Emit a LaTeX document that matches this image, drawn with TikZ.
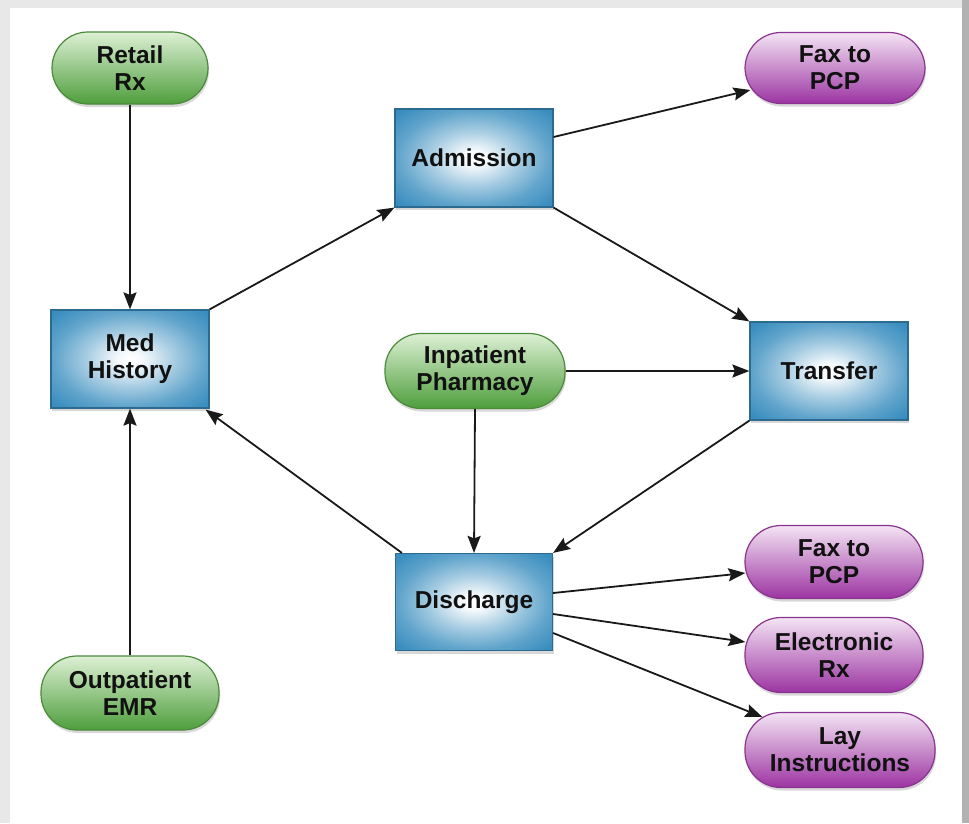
\documentclass[tikz,border=0pt]{standalone}
\usepackage{fontspec}
\setmainfont{Liberation Sans}
\usetikzlibrary{arrows.meta,shadows,calc}
\definecolor{boxblue}{HTML}{3A8EBF}
\definecolor{boxedge}{HTML}{2C6A90}
\definecolor{grnbot}{HTML}{4E9E3C}
\definecolor{grntop}{HTML}{DDF0D4}
\definecolor{grnedge}{HTML}{4A8A3A}
\definecolor{purbot}{HTML}{9C34A2}
\definecolor{purtop}{HTML}{F4E4F4}
\definecolor{puredge}{HTML}{8A3290}
\definecolor{txt}{HTML}{111111}
\pgfdeclareradialshading{boxshade}{\pgfpoint{0bp}{0bp}}{%
  color(0bp)=(white);
  color(4bp)=(white!95!boxblue);
  color(14bp)=(boxblue!45!white);
  color(24bp)=(boxblue!80!white);
  color(33bp)=(boxblue);
  color(50bp)=(boxblue!85!black)}
\tikzset{
  lbl/.style={font=\bfseries\fontsize{24.5}{27}\selectfont, text=txt, align=center},
  sq/.style={lbl, rectangle, draw=boxedge, line width=1.2pt, shading=boxshade,
     minimum width=158pt, minimum height=98pt,
     drop shadow={opacity=0.3,shadow xshift=1pt,shadow yshift=-3pt}},
  gpill/.style={lbl, rectangle, rounded corners=36pt, draw=grnedge, line width=1.2pt,
     top color=grntop, bottom color=grnbot, middle color=grntop!50!grnbot,
     minimum width=178pt, minimum height=74pt,
     drop shadow={opacity=0.3,shadow xshift=1pt,shadow yshift=-3pt}},
  ppill/.style={lbl, rectangle, rounded corners=36pt, draw=puredge, line width=1.2pt,
     top color=purtop, bottom color=purbot, middle color=purtop!50!purbot,
     minimum width=178pt, minimum height=73pt,
     drop shadow={opacity=0.3,shadow xshift=1pt,shadow yshift=-3pt}},
  arr/.style={line width=1.8pt, draw=black!90, -{Stealth[length=17pt,width=13pt,inset=2.5pt]}}
}
\begin{document}
\begin{tikzpicture}[x=1pt,y=-1pt]
\useasboundingbox (0,0) rectangle (969,823);
\fill[black!9] (0,0) rectangle (969,823);
\fill[black!30] (962,0) rectangle (969,823);
\fill[white] (10,8) rectangle (962,823);

\node[gpill, minimum width=156pt, minimum height=72pt] (retail) at (130,68) {Retail\\Rx};
\node[sq] (med) at (130,359) {Med\\History};
\node[gpill] (emr) at (130,693) {Outpatient\\EMR};
\node[sq] (adm) at (474,158) {Admission};
\node[ppill, minimum width=180pt, minimum height=71pt] (fax1) at (835,68) {Fax to\\PCP};
\node[gpill, minimum width=180pt, minimum height=75pt] (inp) at (475,371) {Inpatient\\Pharmacy};
\node[sq] (trans) at (829,371) {Transfer};
\node[sq, minimum width=157pt, minimum height=97pt] (dis) at (474,602) {Discharge};
\node[ppill] (fax2) at (834,562) {Fax to\\PCP};
\node[ppill, minimum height=75pt] (elec) at (834,655) {Electronic\\Rx};
\node[ppill, minimum width=190pt, minimum height=75pt] (lay) at (840,750) {Lay\\Instructions};

\draw[arr] (retail.south) -- (med.north);
\draw[arr] (emr.north) -- (med.south);
\draw[arr] (med.north east) -- (adm.south west);
\draw[arr] ($(dis.north west)+(7,0)$) -- ($(med.south east)+(-4,1)$);
\draw[arr] ($(adm.east)+(0,-21)$) -- ($(fax1.west)+(6,22)$);
\draw[arr] (adm.south east) -- (trans.north west);
\draw[arr] (inp.east) -- (trans.west);
\draw[arr] (inp.south) -- (dis.north);
\draw[arr] (trans.south west) -- (dis.north east);
\draw[arr] ($(dis.east)+(0,-9)$) -- ($(fax2.west)+(1,11)$);
\draw[arr] ($(dis.east)+(0,12)$) -- ($(elec.west)+(1,-13)$);
\draw[arr] ($(dis.east)+(0,31)$) -- ($(lay.west)+(18,-33)$);
\end{tikzpicture}
\end{document}
